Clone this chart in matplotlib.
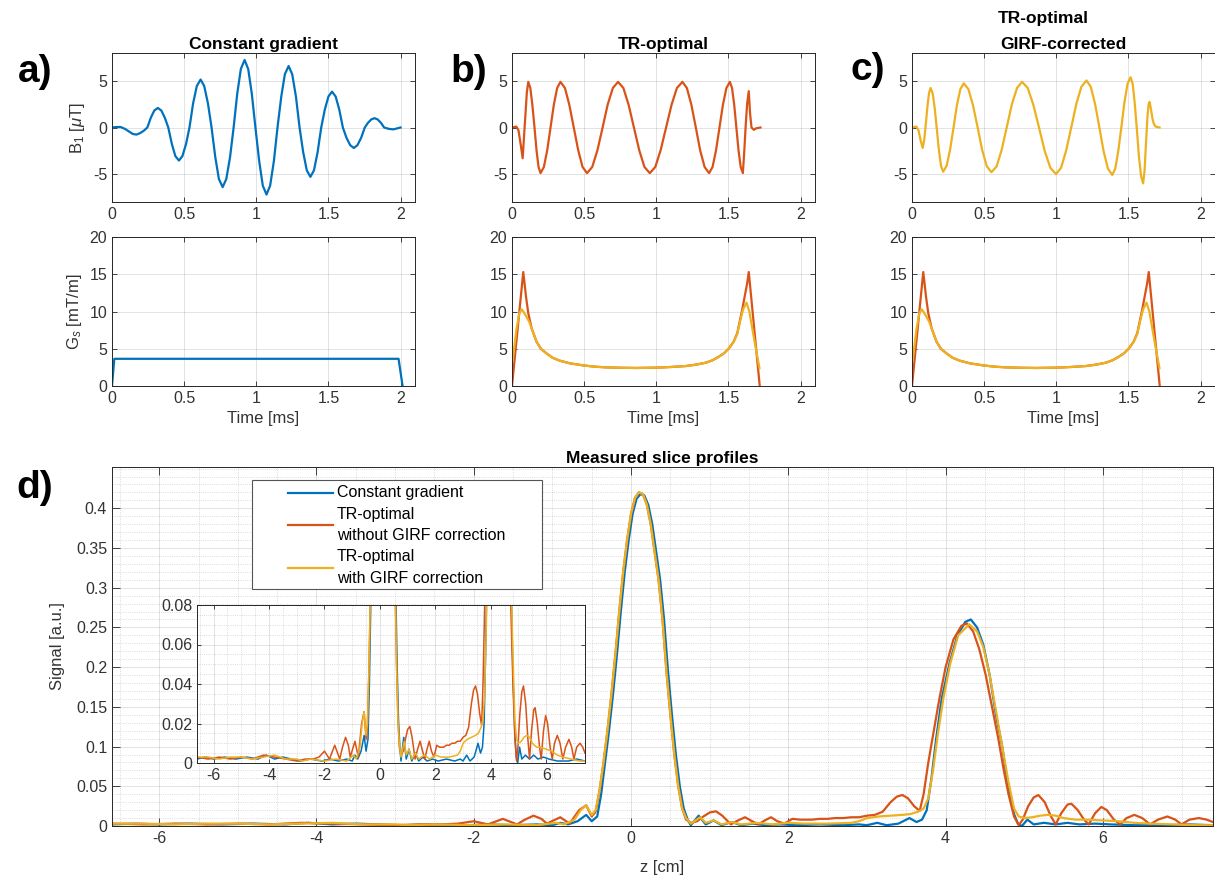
import matplotlib
matplotlib.use("Agg")
import matplotlib.pyplot as plt
from matplotlib.lines import Line2D
from matplotlib.patches import Rectangle
from matplotlib.ticker import MultipleLocator, FormatStrFormatter

plt.rcParams['font.family'] = ['Liberation Sans', 'DejaVu Sans']
plt.rcParams['axes.unicode_minus'] = False
plt.rcParams['mathtext.fontset'] = 'custom'
plt.rcParams['mathtext.rm'] = 'Liberation Sans'
plt.rcParams['mathtext.it'] = 'Liberation Sans:italic'

C_BLUE = '#0072BD'
C_ORANGE = '#D95319'
C_YELLOW = '#EDB120'
C_AX = '#262626'

# ---- RF pulses B1 [uT] vs time [ms] ----
t_const = [0.0, 0.03, 0.06, 0.09, 0.12, 0.145, 0.17, 0.195, 0.22, 0.245,
           0.269, 0.293, 0.318, 0.342, 0.366, 0.39,
           0.415, 0.439, 0.464, 0.488, 0.513, 0.537,
           0.562, 0.588, 0.614, 0.639, 0.665, 0.69,
           0.716, 0.741, 0.767, 0.792, 0.818, 0.843,
           0.868, 0.893, 0.919, 0.944, 0.969, 0.994,
           1.02, 1.045, 1.071, 1.096, 1.122, 1.147,
           1.173, 1.198, 1.224, 1.249, 1.275, 1.30,
           1.325, 1.35, 1.375, 1.40, 1.425, 1.45,
           1.475, 1.50, 1.525, 1.55, 1.575, 1.60,
           1.625, 1.651, 1.676, 1.701, 1.727, 1.752,
           1.774, 1.797, 1.819, 1.841, 1.864, 1.886,
           1.92, 1.952, 1.975, 2.0]
b1_const = [0.0, 0.05, 0.05, -0.15, -0.45, -0.7, -0.76, -0.6, -0.35, 0.0,
            1.05, 1.82, 2.1, 1.82, 1.05, 0.0,
            -1.78, -3.07, -3.55, -3.07, -1.78, 0.0,
            2.58, 4.46, 5.15, 4.46, 2.58, 0.0,
            -3.2, -5.54, -6.4, -5.54, -3.2, 0.0,
            3.63, 6.28, 7.25, 6.28, 3.63, 0.0,
            -3.6, -6.24, -7.2, -6.24, -3.6, 0.0,
            3.3, 5.72, 6.6, 5.72, 3.3, 0.0,
            -2.65, -4.59, -5.3, -4.59, -2.65, 0.0,
            1.93, 3.33, 3.85, 3.33, 1.93, 0.0,
            -1.1, -1.9, -2.2, -1.9, -1.1, 0.0,
            0.5, 0.87, 1.0, 0.87, 0.5, 0.0,
            -0.15, -0.2, -0.1, 0.0]

t_tro = [0.0, 0.03, 0.045, 0.06, 0.074, 0.084, 0.094, 0.103, 0.113,
         0.127, 0.141, 0.156, 0.170, 0.184, 0.198,
         0.221, 0.244, 0.267, 0.290, 0.313, 0.336,
         0.367, 0.397, 0.428, 0.459, 0.489, 0.52,
         0.556, 0.592, 0.628, 0.663, 0.699, 0.735,
         0.772, 0.808, 0.845, 0.882, 0.918, 0.955,
         0.993, 1.030, 1.068, 1.106, 1.143, 1.181,
         1.212, 1.243, 1.274, 1.304, 1.335, 1.366,
         1.39, 1.414, 1.438, 1.462, 1.486, 1.51,
         1.525, 1.54, 1.555, 1.57, 1.585, 1.60,
         1.61, 1.62, 1.63, 1.641,
         1.65, 1.66, 1.676, 1.69, 1.722]
b1_tro = [0.0, 0.1, -0.3, -1.8, -3.3, -0.8, 1.6, 3.8, 4.9,
          4.24, 2.45, 0.0, -2.45, -4.24, -4.9,
          -4.24, -2.45, 0.0, 2.45, 4.24, 4.9,
          4.24, 2.45, 0.0, -2.45, -4.24, -4.9,
          -4.24, -2.45, 0.0, 2.45, 4.24, 4.9,
          4.24, 2.45, 0.0, -2.45, -4.24, -4.9,
          -4.24, -2.45, 0.0, 2.45, 4.24, 4.9,
          4.24, 2.45, 0.0, -2.45, -4.24, -4.9,
          -4.24, -2.45, 0.0, 2.45, 4.24, 4.9,
          4.24, 2.45, 0.0, -2.45, -4.24, -4.9,
          -2.5, 0.3, 2.6, 3.9,
          1.5, 0.0, -0.25, -0.1, 0.0]

t_girf = [0.0, 0.03, 0.045, 0.06, 0.074, 0.085, 0.097, 0.108, 0.118, 0.129,
          0.1435, 0.158, 0.1725, 0.187, 0.2015, 0.216,
          0.24, 0.264, 0.288, 0.311, 0.335, 0.359,
          0.391, 0.423, 0.455, 0.486, 0.518, 0.55,
          0.586, 0.621, 0.657, 0.692, 0.728, 0.763,
          0.802, 0.841, 0.881, 0.920, 0.959, 0.998,
          1.033, 1.068, 1.104, 1.139, 1.174, 1.209,
          1.239, 1.269, 1.299, 1.328, 1.358, 1.388,
          1.409, 1.43, 1.452, 1.473, 1.494, 1.515,
          1.53, 1.544, 1.559, 1.573, 1.588, 1.602,
          1.612, 1.622, 1.632, 1.64, 1.646,
          1.656, 1.666, 1.676, 1.688, 1.716]
b1_girf = [0.0, 0.1, -0.3, -1.4, -2.2, -1.3, 0.6, 2.4, 3.7, 4.25,
           3.65, 2.0, -0.25, -2.5, -4.15, -4.75,
           -4.11, -2.38, 0.0, 2.38, 4.11, 4.75,
           4.11, 2.37, 0.0, -2.4, -4.15, -4.8,
           -4.19, -2.43, 0.05, 2.48, 4.25, 4.9,
           4.24, 2.43, -0.05, -2.53, -4.34, -5.0,
           -4.33, -2.5, 0.02, 2.54, 4.38, 5.05,
           4.37, 2.51, -0.02, -2.56, -4.42, -5.1,
           -4.4, -2.48, 0.15, 2.78, 4.7, 5.4,
           4.64, 2.55, -0.3, -3.15, -5.24, -6.0,
           -4.6, -1.6, 1.2, 2.5, 2.75,
           2.0, 1.0, 0.4, 0.1, 0.0]

# ---- slice gradients Gs [mT/m] ----
tg_const = [0.0, 0.016, 1.986, 2.014]
g_const = [0.0, 3.65, 3.65, 0.0]

tg_nom = [0.0, 0.078, 0.088, 0.097, 0.113, 0.136, 0.170, 0.20, 0.239, 0.28,
          0.331, 0.40, 0.492, 0.57, 0.653, 0.75, 0.860, 0.998, 1.10, 1.205,
          1.28, 1.343, 1.39, 1.434, 1.47, 1.503, 1.535, 1.561, 1.595, 1.630,
          1.641, 1.717]
g_nom = [0.0, 15.3, 13.6, 12.0, 9.75, 7.74, 5.95, 5.0, 4.38, 3.8,
         3.40, 3.05, 2.77, 2.6, 2.50, 2.45, 2.42, 2.46, 2.55, 2.68,
         2.88, 3.13, 3.45, 3.94, 4.4, 5.05, 5.9, 7.07, 10.2, 13.8,
         15.3, 0.0]

tg_corr = [0.005, 0.03, 0.05, 0.067, 0.085, 0.10, 0.12, 0.14, 0.17, 0.20,
           0.239, 0.28, 0.331, 0.40, 0.492, 0.57, 0.653, 0.75, 0.860, 0.998,
           1.10, 1.205, 1.28, 1.343, 1.39, 1.434, 1.47, 1.503, 1.535, 1.56,
           1.58, 1.60, 1.625, 1.645, 1.67, 1.695, 1.715]
g_corr = [3.5, 7.5, 9.7, 10.3, 9.8, 9.3, 8.6, 7.5, 5.95, 5.0,
          4.38, 3.8, 3.40, 3.05, 2.77, 2.6, 2.50, 2.45, 2.42, 2.46,
          2.55, 2.68, 2.88, 3.13, 3.45, 3.94, 4.4, 5.05, 5.9, 6.9,
          8.6, 10.2, 11.2, 10.0, 7.2, 4.5, 2.4]

# ---- measured slice profiles, signal [a.u.] vs z [cm] ----
z_const = [-6.6, -6.3, -6.0, -5.6, -5.2, -4.8, -4.4, -4.1, -3.8, -3.5,
           -3.2, -2.9, -2.5, -2.1, -1.8, -1.5, -1.2, -1.0, -0.9, -0.8,
           -0.68, -0.57, -0.5,
           -0.43, -0.38, -0.33, -0.28, -0.23, -0.18, -0.13, -0.08, -0.03, 0.02,
           0.07, 0.12, 0.17, 0.22, 0.27, 0.32, 0.37, 0.42, 0.47, 0.52,
           0.57, 0.62, 0.67, 0.72,
           0.76, 0.86, 0.95, 1.05, 1.15, 1.28, 1.4, 1.55, 1.7, 1.9,
           2.1, 2.4, 2.7, 2.9, 3.0, 3.13, 3.25, 3.4, 3.54, 3.63, 3.7,
           3.76, 3.82, 3.88, 3.95, 4.05, 4.15, 4.25, 4.32, 4.40, 4.48,
           4.56, 4.64, 4.72, 4.80, 4.87, 4.92,
           4.97, 5.04, 5.12, 5.25, 5.4, 5.55, 5.7, 5.9, 6.1, 6.4,
           6.8, 7.1, 7.4]
s_const = [0.002, 0.003, 0.002, 0.003, 0.002, 0.003, 0.002, 0.004, 0.002, 0.003,
           0.002, 0.001, 0.002, 0.001, 0.002, 0.001, 0.002, 0.001, 0.004, 0.002,
           0.006, 0.014, 0.006,
           0.012, 0.04, 0.08, 0.12, 0.165, 0.215, 0.27, 0.32, 0.36, 0.393,
           0.412, 0.418, 0.416, 0.404, 0.38, 0.345, 0.31, 0.26, 0.195, 0.14,
           0.09, 0.05, 0.022, 0.008,
           0.001, 0.013, 0.002, 0.007, 0.001, 0.005, 0.001, 0.003, 0.001, 0.002,
           0.001, 0.002, 0.001, 0.002, 0.001, 0.004, 0.001, 0.003, 0.01, 0.005, 0.008,
           0.02, 0.06, 0.11, 0.16, 0.205, 0.24, 0.257, 0.26, 0.25, 0.228,
           0.19, 0.14, 0.10, 0.045, 0.015, 0.003,
           0.0, 0.008, 0.002, 0.004, 0.002, 0.004, 0.002, 0.003, 0.002, 0.001,
           0.001, 0.002, 0.001]

z_nom = [-6.6, -6.2, -5.8, -5.4, -5.0, -4.6, -4.2, -3.8, -3.4, -3.0,
         -2.7, -2.4, -2.2, -2.0, -1.82, -1.63, -1.45, -1.35, -1.24, -1.14,
         -1.07, -0.9, -0.78, -0.66, -0.57, -0.5,
         -0.45, -0.40, -0.35, -0.30, -0.25, -0.20, -0.15, -0.10, -0.05, 0.0,
         0.05, 0.10, 0.15, 0.20, 0.25, 0.30, 0.35, 0.40, 0.45, 0.50,
         0.55, 0.60, 0.65, 0.70,
         0.76, 0.84, 0.92, 1.0, 1.08, 1.16, 1.27, 1.36, 1.45, 1.54,
         1.62, 1.7, 1.78, 1.86, 1.95, 2.05, 2.15, 2.3, 2.4, 2.5,
         2.6, 2.7, 2.8, 2.9, 3.0, 3.1, 3.2, 3.3, 3.38, 3.45,
         3.52, 3.6, 3.67,
         3.72, 3.78, 3.85, 3.92, 4.00, 4.10, 4.20, 4.27, 4.35, 4.43,
         4.51, 4.59, 4.67, 4.74, 4.80, 4.87, 4.93,
         4.98, 5.05, 5.12, 5.18, 5.26, 5.34, 5.4, 5.47, 5.55, 5.6,
         5.68, 5.76, 5.82, 5.9, 5.98, 6.05, 6.14, 6.22, 6.3, 6.4,
         6.5, 6.6, 6.7, 6.82, 6.92, 7.0, 7.1, 7.22, 7.32, 7.4]
s_nom = [0.003, 0.002, 0.003, 0.002, 0.003, 0.002, 0.004, 0.003, 0.002, 0.001,
         0.002, 0.002, 0.003, 0.006, 0.002, 0.009, 0.002, 0.008, 0.013, 0.009,
         0.003, 0.011, 0.003, 0.02, 0.026, 0.012,
         0.018, 0.045, 0.08, 0.12, 0.165, 0.215, 0.27, 0.32, 0.36, 0.393,
         0.413, 0.42, 0.418, 0.405, 0.38, 0.345, 0.31, 0.26, 0.195, 0.14,
         0.09, 0.05, 0.022, 0.008,
         0.004, 0.006, 0.012, 0.017, 0.0185, 0.013, 0.002, 0.007, 0.011, 0.006,
         0.002, 0.007, 0.011, 0.006, 0.003, 0.009, 0.008, 0.008, 0.009, 0.009,
         0.010, 0.010, 0.011, 0.011, 0.013, 0.014, 0.018, 0.03, 0.037, 0.039,
         0.035, 0.025, 0.019,
         0.04, 0.08, 0.12, 0.16, 0.2, 0.235, 0.252, 0.255, 0.245, 0.222,
         0.19, 0.15, 0.11, 0.07, 0.04, 0.012, 0.001,
         0.008, 0.025, 0.036, 0.039, 0.03, 0.012, 0.002, 0.016, 0.027, 0.028,
         0.02, 0.008, 0.002, 0.016, 0.024, 0.02, 0.008, 0.002, 0.01, 0.014,
         0.01, 0.002, 0.008, 0.012, 0.008, 0.002, 0.008, 0.01, 0.008, 0.005]

z_corr = [-6.6, -6.2, -5.8, -5.4, -5.0, -4.6, -4.2, -3.8, -3.4, -3.0,
          -2.8, -2.5, -2.0, -1.6, -1.2, -0.95, -0.85, -0.72, -0.64, -0.57,
          -0.5,
          -0.45, -0.40, -0.35, -0.30, -0.25, -0.20, -0.15, -0.10, -0.05, 0.0,
          0.05, 0.10, 0.15, 0.20, 0.25, 0.30, 0.35, 0.40, 0.45, 0.50,
          0.55, 0.60, 0.65, 0.70,
          0.76, 0.88, 0.95, 1.05, 1.15, 1.28, 1.4, 1.6, 1.8, 2.0,
          2.2, 2.5, 2.8, 2.9, 3.0, 3.15, 3.3, 3.45, 3.55, 3.65,
          3.72, 3.78, 3.84, 3.90, 3.97, 4.06, 4.16, 4.30, 4.40, 4.48,
          4.56, 4.64, 4.72, 4.80, 4.87, 4.93,
          5.0, 5.1, 5.2, 5.3, 5.4, 5.5, 5.65, 5.8, 6.0, 6.2,
          6.4, 6.6, 6.9, 7.2, 7.4]
s_corr = [0.003, 0.003, 0.002, 0.003, 0.003, 0.002, 0.003, 0.004, 0.002, 0.002,
          0.001, 0.002, 0.001, 0.002, 0.001, 0.004, 0.002, 0.008, 0.02, 0.026,
          0.014,
          0.02, 0.045, 0.08, 0.12, 0.165, 0.215, 0.27, 0.32, 0.36, 0.393,
          0.413, 0.42, 0.418, 0.405, 0.38, 0.345, 0.31, 0.26, 0.195, 0.14,
          0.09, 0.05, 0.022, 0.01,
          0.003, 0.011, 0.004, 0.007, 0.002, 0.005, 0.002, 0.004, 0.002, 0.004,
          0.003, 0.003, 0.004, 0.006, 0.01, 0.012, 0.013, 0.014, 0.015, 0.018,
          0.022, 0.035, 0.07, 0.115, 0.16, 0.205, 0.24, 0.254, 0.245, 0.225,
          0.19, 0.145, 0.10, 0.055, 0.022, 0.012,
          0.01, 0.011, 0.013, 0.014, 0.013, 0.01, 0.008, 0.008, 0.007, 0.006,
          0.004, 0.003, 0.002, 0.001, 0.001]

legend_labels = [['Constant gradient'],
                 ['TR-optimal', 'without GIRF correction'],
                 ['TR-optimal', 'with GIRF correction']]


def matlab_style(ax, fs=11.5, ticklen=3.5):
    for sp in ax.spines.values():
        sp.set_color(C_AX)
        sp.set_linewidth(0.7)
    ax.tick_params(which='major', direction='in', top=True, right=True, length=ticklen,
                   width=0.6, color=C_AX, labelsize=fs, labelcolor='#333333')
    ax.grid(True, which='major', color=C_AX, alpha=0.15, linewidth=0.6)
    ax.set_axisbelow(True)
    ax.xaxis.set_major_formatter(FormatStrFormatter('%g'))
    ax.yaxis.set_major_formatter(FormatStrFormatter('%g'))


W, H = 1215, 881
fig = plt.figure(figsize=(W / 100, H / 100), dpi=100)


def box(l, t, r, b):
    return [l / W, 1 - b / H, (r - l) / W, (b - t) / H]


lefts = [112, 512, 912]
rf_t = [t_const, t_tro, t_girf]
rf_b = [b1_const, b1_tro, b1_girf]
rf_c = [C_BLUE, C_ORANGE, C_YELLOW]
titles = ['Constant gradient', 'TR-optimal', 'GIRF-corrected']

for i in range(3):
    ax = fig.add_axes(box(lefts[i], 53, lefts[i] + 303, 202))
    ax.plot(rf_t[i], rf_b[i], color=rf_c[i], lw=1.6)
    ax.set_xlim(0, 2.1)
    ax.set_ylim(-8, 8)
    ax.set_xticks([0, 0.5, 1, 1.5, 2])
    ax.set_yticks([-5, 0, 5])
    matlab_style(ax)
    ax.set_title(titles[i], fontsize=12.5, fontweight='bold', pad=3)
    if i == 0:
        ax.set_ylabel(r'B$_1$ [$\mu$T]', fontsize=12, color='#333333', labelpad=4)

    axg = fig.add_axes(box(lefts[i], 237, lefts[i] + 303, 386))
    if i == 0:
        axg.plot(tg_const, g_const, color=C_BLUE, lw=1.6)
        axg.set_ylabel(r'G$_s$ [mT/m]', fontsize=12, color='#333333', labelpad=4)
    else:
        axg.plot(tg_nom, g_nom, color=C_ORANGE, lw=1.6)
        axg.plot(tg_corr, g_corr, color=C_YELLOW, lw=1.6)
    axg.set_xlim(0, 2.1)
    axg.set_ylim(0, 20)
    axg.set_xticks([0, 0.5, 1, 1.5, 2])
    axg.set_yticks([0, 5, 10, 15, 20])
    matlab_style(axg)
    axg.set_xlabel('Time [ms]', fontsize=12, color='#333333', labelpad=4)

fig.text(1043 / W, 1 - 18 / H, 'TR-optimal', ha='center', va='center',
         fontsize=12.5, fontweight='bold')

for lab, x, y in [('a)', 35, 72), ('b)', 469, 72), ('c)', 868, 70), ('d)', 35, 488)]:
    fig.text(x / W, 1 - y / H, lab, ha='center', va='center', fontsize=28, fontweight='bold')

# ---- bottom: measured slice profiles ----
axd = fig.add_axes(box(112, 467, 1213, 826))
l1, = axd.plot(z_const, s_const, color=C_BLUE, lw=1.6)
l2, = axd.plot(z_nom, s_nom, color=C_ORANGE, lw=1.6)
l3, = axd.plot(z_corr, s_corr, color=C_YELLOW, lw=1.6)
axd.set_xlim(-6.6, 7.4)
axd.set_ylim(0, 0.452)
axd.set_xticks([-6, -4, -2, 0, 2, 4, 6])
axd.set_yticks([0, 0.05, 0.1, 0.15, 0.2, 0.25, 0.3, 0.35, 0.4])
axd.xaxis.set_minor_locator(MultipleLocator(0.5))
axd.yaxis.set_minor_locator(MultipleLocator(0.01))
matlab_style(axd, ticklen=6)
axd.tick_params(which='minor', length=0)
axd.grid(True, which='minor', color=C_AX, alpha=0.22, linewidth=0.6, linestyle=':')
axd.set_title('Measured slice profiles', fontsize=12.5, fontweight='bold', pad=3)
axd.set_xlabel('z [cm]', fontsize=12, color='#333333', labelpad=10)
axd.set_ylabel('Signal [a.u.]', fontsize=12, color='#333333', labelpad=8)

# legend drawn MATLAB-style: wide box, one text row per 21 px
fig.add_artist(Rectangle((252 / W, 1 - 589 / H), 290 / W, 109 / H, transform=fig.transFigure,
                         facecolor='white', edgecolor='#555555', linewidth=0.8, zorder=1))
row = 0
for handle, lines in zip([l1, l2, l3], legend_labels):
    y_rows = [493 + 21.3 * (row + k) for k in range(len(lines))]
    y_mid = sum(y_rows) / len(y_rows)
    fig.add_artist(Line2D([288 / W, 333 / W], [1 - y_mid / H, 1 - y_mid / H],
                          transform=fig.transFigure, color=handle.get_color(),
                          lw=handle.get_linewidth(), zorder=2))
    for k, txt in enumerate(lines):
        fig.text(337 / W, 1 - y_rows[k] / H, txt, ha='left', va='center',
                 fontsize=11.5, color='black', zorder=3)
    row += len(lines)

# ---- inset zoom ----
axi = fig.add_axes(box(197, 605, 585, 763))
axi.plot(z_const, s_const, color=C_BLUE, lw=1.1)
axi.plot(z_nom, s_nom, color=C_ORANGE, lw=1.1)
axi.plot(z_corr, s_corr, color=C_YELLOW, lw=1.1)
axi.set_xlim(-6.6, 7.4)
axi.set_ylim(0, 0.08)
axi.set_xticks([-6, -4, -2, 0, 2, 4, 6])
axi.set_yticks([0, 0.02, 0.04, 0.06, 0.08])
axi.xaxis.set_minor_locator(MultipleLocator(0.5))
axi.yaxis.set_minor_locator(MultipleLocator(0.005))
matlab_style(axi, ticklen=3)
axi.tick_params(which='minor', length=0)
axi.grid(True, which='minor', color=C_AX, alpha=0.22, linewidth=0.6, linestyle=':')

fig.savefig('out.png', dpi=100)
